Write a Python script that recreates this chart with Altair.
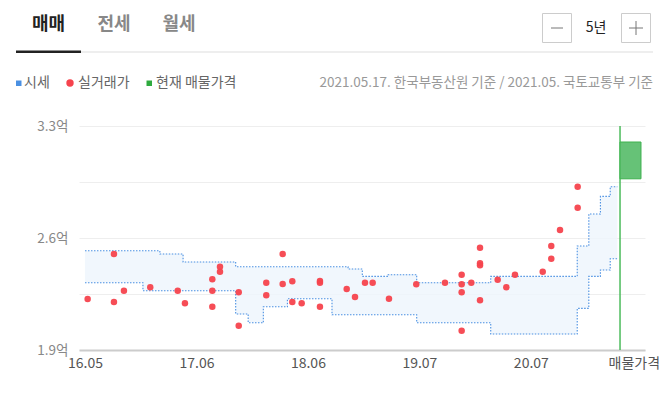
import altair as alt
import pandas as pd

FONT = "Noto Sans CJK KR"

# ---- data (x = months since 2016.05, y = price in 억) ----
band_month = [0, 6.5, 8.4, 11, 16.9, 18.3, 20, 22.7, 27.7, 29.5, 31.1, 34, 37.2, 45.5, 55.2, 56.5, 57.8, 58.9, 59.7]
band_high = [2.52, 2.52, 2.50, 2.45, 2.42, 2.42, 2.42, 2.42, 2.42, 2.406, 2.36, 2.37, 2.32, 2.36, 2.55, 2.75, 2.86, 2.92, 2.92]
band_low = [2.32, 2.27, 2.27, 2.27, 2.125, 2.07, 2.17, 2.22, 2.12, 2.12, 2.12, 2.12, 2.07, 2.0, 2.16, 2.36, 2.40, 2.47, 2.47]

trade_month = [0.3, 3.25, 3.25, 4.37, 7.32, 10.4, 11.21, 14.28, 14.28, 14.28, 15.14, 15.14, 17.24, 17.24,
               20.33, 20.33, 22.17, 22.17, 23.25, 23.25, 24.3, 26.35, 26.35, 26.35, 29.35, 30.28, 31.4,
               32.26, 34.09, 37.15, 40.37, 42.24, 42.24, 42.24, 42.24, 43.32, 44.3, 44.3, 44.3, 44.3,
               46.28, 47.25, 48.22, 51.33, 52.29, 52.29, 53.27, 55.25, 55.25]
trade_price = [2.219, 2.50, 2.20, 2.271, 2.292, 2.271, 2.192, 2.342, 2.271, 2.171, 2.421, 2.389, 2.261, 2.052,
               2.321, 2.242, 2.50, 2.312, 2.329, 2.20, 2.192, 2.331, 2.321, 2.171, 2.281, 2.231, 2.321,
               2.321, 2.221, 2.311, 2.321, 2.371, 2.311, 2.261, 2.021, 2.321, 2.539, 2.442, 2.429, 2.211,
               2.339, 2.292, 2.371, 2.389, 2.55, 2.471, 2.65, 2.921, 2.789]

listing_month = [60, 62.35]
listing_price = [2.97, 3.2]

x_tick_values = [0, 12.5, 25, 37.5, 50, 61.55]
x_tick_labels = ["16.05", "17.06", "18.06", "19.07", "20.07", "매물가격"]
y_grid_values = [1.9, 2.25, 2.6, 2.95, 3.3]
y_label_values = [1.9, 2.6, 3.3]

# ---- layout ----
PL, PT = 79, 126  # plot origin in page pixels (incl. 8px margin)
W, H = 566, 224


def px(x):
    return alt.value(x - PL)


def py(y):
    return alt.value(y - PT)


band_df = pd.DataFrame({"m": band_month, "hi": band_high, "lo": band_low})
trade_df = pd.DataFrame({"m": trade_month, "p": trade_price})
listing_df = pd.DataFrame({"m0": [listing_month[0]], "m1": [listing_month[1]],
                           "p0": [listing_price[0]], "p1": [listing_price[1]]})

label_expr = "[" + ",".join(f"'{t}'" for t in x_tick_labels) + "][indexof([" + \
    ",".join(str(v) for v in x_tick_values) + "], datum.value)]"

xscale = alt.Scale(domain=[-0.67, 62.8], nice=False, zero=False)
yscale = alt.Scale(domain=[1.9, 3.3], nice=False, zero=False)

xaxis = alt.Axis(values=x_tick_values, labelExpr=label_expr, grid=False, ticks=False,
                 domainColor="#cccccc", domainWidth=2, labelColor="#555555", labelFontSize=14,
                 labelFont=FONT, labelPadding=6, labelOverlap=False, labelFlush=False, title=None)
yaxis = alt.Axis(values=y_grid_values,
                 labelExpr="indexof([" + ",".join(str(v) for v in y_label_values) +
                 "], datum.value) >= 0 ? format(datum.value, '.1f') + '억' : ''",
                 grid=True, gridColor="#eeeeee", gridWidth=1, ticks=False, domain=False,
                 labelColor="#888888", labelFontSize=13.5, labelFont=FONT, labelPadding=11, title=None)

band = alt.Chart(band_df).mark_area(interpolate="step-after", color="#eef5fc", opacity=0.8).encode(
    x=alt.X("m:Q", scale=xscale, axis=xaxis),
    y=alt.Y("hi:Q", scale=yscale, axis=yaxis),
    y2="lo:Q",
)
line_hi = alt.Chart(band_df).mark_line(interpolate="step-after", color="#4a90e2", strokeWidth=1.1,
                                       strokeDash=[1.5, 1.5]).encode(
    x=alt.X("m:Q", scale=xscale), y=alt.Y("hi:Q", scale=yscale))
line_lo = alt.Chart(band_df).mark_line(interpolate="step-after", color="#4a90e2", strokeWidth=1.1,
                                       strokeDash=[1.5, 1.5]).encode(
    x=alt.X("m:Q", scale=xscale), y=alt.Y("lo:Q", scale=yscale))

points = alt.Chart(trade_df).mark_circle(color="#f6434d", size=42, opacity=0.95).encode(
    x=alt.X("m:Q", scale=xscale), y=alt.Y("p:Q", scale=yscale))

vrule = alt.Chart(listing_df).mark_rule(color="#4cbb5c", strokeWidth=1.5).encode(
    x=alt.X("m0:Q", scale=xscale), y=alt.value(0), y2=alt.value(H))
rect = alt.Chart(listing_df).mark_rect(color="#66c277", stroke="#3fb24f", strokeWidth=1).encode(
    x=alt.X("m0:Q", scale=xscale), x2="m1:Q",
    y=alt.Y("p0:Q", scale=yscale), y2="p1:Q")

one = alt.Data(values=[{}])


def text(t, x, y, size, color, align="left", weight="normal"):
    return alt.Chart(one).mark_text(text=t, font=FONT, fontSize=size, color=color, align=align,
                                    baseline="middle", fontWeight=weight).encode(x=px(x), y=py(y))


def box(x0, x1, y0, y1, fill, stroke=None):
    kw = dict(color=fill)
    if stroke:
        kw.update(stroke=stroke, strokeWidth=1)
    return alt.Chart(one).mark_rect(**kw).encode(x=px(x0), x2=px(x1), y=py(y0), y2=py(y1))


def seg(x0, x1, y0, y1, color, w=1):
    return alt.Chart(one).mark_rule(color=color, strokeWidth=w).encode(
        x=px(x0), x2=px(x1), y=py(y0), y2=py(y1))


header = [
    text("매매", 48.5, 25, 18, "#222222", "center", "bold"),
    text("전세", 114, 25, 18, "#888888", "center", "bold"),
    text("월세", 179, 25, 18, "#888888", "center", "bold"),
    seg(16, 653, 52, 52, "#dddddd", 1),
    box(16, 81, 50.5, 53, "#222222"),
    box(542.5, 571.5, 13.5, 42.5, "#ffffff", "#cccccc"),
    seg(551, 563, 28, 28, "#777777", 1),
    text("5년", 596, 28, 14, "#222222", "center"),
    box(621.5, 650.5, 13.5, 42.5, "#ffffff", "#cccccc"),
    seg(629, 643, 28, 28, "#777777", 1),
    seg(636, 636, 21, 35, "#777777", 1),
    box(16, 21.5, 80.5, 86, "#4a90e2"),
    text("시세", 24, 83, 14, "#666666"),
    alt.Chart(one).mark_point(filled=True, shape="circle", size=55, color="#f6434d", opacity=1).encode(
        x=px(70), y=py(83)),
    text("실거래가", 78, 83, 14, "#666666"),
    box(146.5, 152, 80.5, 86, "#2eaa3e"),
    text("현재 매물가격", 156, 83, 14, "#666666"),
    text("2021.05.17. 한국부동산원 기준 / 2021.05. 국토교통부 기준", 653, 83, 13.5, "#999999", "right"),
]

chart = alt.layer(band, line_hi, line_lo, points, vrule, rect, *header).properties(
    width=W, height=H,
    autosize=alt.AutoSizeParams(type="none"),
    padding={"left": PL - 8, "top": PT - 8, "right": 653 - (PL - 8) - W, "bottom": 30},
).configure_view(stroke=None)

chart.save("out.html", embed_options={"renderer": "svg", "actions": False})
